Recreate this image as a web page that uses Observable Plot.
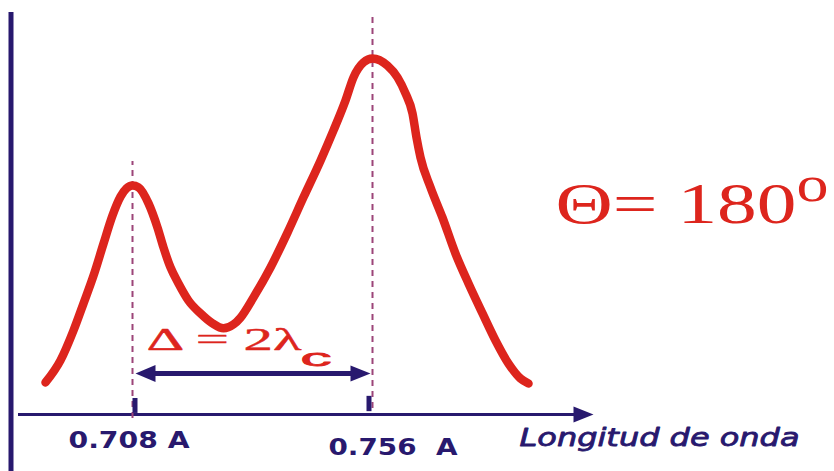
<!DOCTYPE html>
<html>
<head>
<meta charset="utf-8">
<script src="https://cdn.jsdelivr.net/npm/d3@7"></script>
<script src="https://cdn.jsdelivr.net/npm/@observablehq/plot@0.6"></script>
<style>
  html, body { margin: 0; padding: 0; background: #fff; }
  #chart svg { display: block; }
</style>
</head>
<body>
<div id="chart"></div>
<script>
// Compton spectrum at a scattering angle of 180°: wavelength (Å) vs. intensity (arbitrary units)
const wavelength = [0.6906, 0.6936, 0.6962, 0.6982, 0.7002, 0.7022, 0.7040, 0.7056, 0.7068, 0.7080,
  0.7092, 0.7112, 0.7130, 0.7142, 0.7156, 0.7172, 0.7192, 0.7216, 0.7240, 0.7262,
  0.7282, 0.7296, 0.7322, 0.7356, 0.7390, 0.7422, 0.7456, 0.7482, 0.7506, 0.7522, 0.7542, 0.7560,
  0.7590, 0.7610, 0.7626, 0.7640, 0.7648, 0.7656, 0.7676, 0.7700,
  0.7726, 0.7752, 0.7780, 0.7806, 0.7832, 0.7856, 0.7872];
const intensity = [9.0, 15.2, 23.6, 31.2, 39.0, 48.0, 55.9, 61.2, 63.5, 64.3,
  63.8, 59.3, 52.5, 46.9, 41.3, 36.8, 32.0, 28.4, 25.6, 24.2,
  25.3, 27.2, 32.9, 41.3, 51.1, 61.0, 71.3, 79.8, 88.2, 94.7, 98.9, 100,
  98.0, 94.7, 90.2, 84.6, 77.8, 72.2, 63.8, 55.3,
  45.2, 36.8, 28.4, 20.8, 14.3, 10.1, 8.7];

// unshifted (0.708 Å) and shifted (0.756 Å) lines
const peakWavelengths = [0.708, 0.756];
const tickLabels = ["0.708 A", "0.756  A"];
const guideBottoms = [-1.1, 1.7];
const guideTops = [71.1, 112.4];

const axisTitle = "Longitud de onda";
const angleLabel = "Θ= 180";
const degreeMark = "o";
const shiftLabel = "Δ = 2λ";
const shiftSubscript = "c";

const navy = "#28196e";
const red = "#dd251d";
const guideColor = "#9c4579";

const spectrum = wavelength.map((w, i) => ({w, v: intensity[i]}));
const ticks = peakWavelengths.map((w, i) => ({w, label: tickLabels[i]}));
const shiftLevel = 11.5; // height of the Δ arrow

// filled triangular arrowheads
const headRight = {draw(ctx, size) { const r = Math.sqrt(size / Math.PI); ctx.moveTo(r, 0); ctx.lineTo(-r, -0.8 * r); ctx.lineTo(-r, 0.8 * r); ctx.closePath(); }};
const headLeft = {draw(ctx, size) { const r = Math.sqrt(size / Math.PI); ctx.moveTo(-r, 0); ctx.lineTo(r, -0.85 * r); ctx.lineTo(r, 0.85 * r); ctx.closePath(); }};

const serif = "'Liberation Serif', 'Times New Roman', serif";
const sans = "'DejaVu Sans', sans-serif";

const chart = Plot.plot({
  width: 834,
  height: 471,
  margin: 0,
  x: {domain: [0.6816, 0.8484], axis: null},
  y: {domain: [-16.01, 116.29], axis: null},
  marks: [
    // vertical axis
    Plot.ruleX([0.6837], {y1: -16.01, y2: 112.9, stroke: navy, strokeWidth: 5}),
    // wavelength axis with arrow
    Plot.ruleY([0], {x1: 0.6852, x2: 0.7966, stroke: navy, strokeWidth: 3}),
    Plot.dot([0.7982], {x: d => d, y: 0, symbol: headRight, r: 10, fill: navy, stroke: null}),
    // dashed guides through both peaks
    Plot.ruleX(peakWavelengths, {y1: guideBottoms, y2: guideTops, stroke: guideColor, strokeWidth: 2, strokeDasharray: "6,5"}),
    // tick marks
    Plot.ruleX([peakWavelengths[0]], {y1: 0.3, y2: 4.5, dx: 2.5, stroke: navy, strokeWidth: 5}),
    Plot.ruleX([peakWavelengths[1]], {y1: 0.8, y2: 5.1, dx: -3.5, stroke: navy, strokeWidth: 5}),
    // spectrum
    Plot.line(spectrum, {x: "w", y: "v", stroke: red, strokeWidth: 8.5, curve: "monotone-x", strokeLinecap: "round"}),
    // Δ double arrow between the peaks
    Plot.ruleY([shiftLevel], {x1: peakWavelengths[0], x2: peakWavelengths[1], insetLeft: 18, insetRight: 16, stroke: navy, strokeWidth: 5}),
    Plot.dot([peakWavelengths[0]], {x: d => d, y: shiftLevel, dx: 13, symbol: headLeft, r: 10, fill: navy, stroke: null}),
    Plot.dot([peakWavelengths[1]], {x: d => d, y: shiftLevel, dx: -12, symbol: headRight, r: 10, fill: navy, stroke: null}),
    // tick labels
    Plot.text([ticks[0]], {x: "w", y: 0, text: "label", dx: -3.5, dy: 33, lineAnchor: "bottom", fontFamily: sans, fontWeight: "bold", fontSize: 23, fill: navy}),
    Plot.text([ticks[1]], {x: "w", y: 0, text: "label", dx: 20.5, dy: 40, lineAnchor: "bottom", fontFamily: sans, fontWeight: "bold", fontSize: 23, fill: navy}),
    // axis title
    Plot.text([axisTitle], {frameAnchor: "bottom-right", textAnchor: "end", lineAnchor: "bottom", dx: -35, dy: -26, fontFamily: sans, fontStyle: "italic", fontSize: 24, fill: navy, stroke: navy, strokeWidth: 0.8}),
    // scattering angle
    Plot.text([angleLabel], {frameAnchor: "top-left", textAnchor: "start", lineAnchor: "bottom", dx: 555, dy: 222, fontFamily: serif, fontSize: 58, fill: red}),
    Plot.text([degreeMark], {frameAnchor: "top-left", textAnchor: "start", lineAnchor: "bottom", dx: 796, dy: 200, fontFamily: serif, fontSize: 50, fill: red}),
    // Compton shift
    Plot.text([shiftLabel], {x: peakWavelengths[0], y: shiftLevel, textAnchor: "start", lineAnchor: "bottom", dx: 14, dy: -24, fontFamily: serif, fontSize: 31, fill: red, stroke: red, strokeWidth: 0.4}),
    Plot.text([shiftSubscript], {x: peakWavelengths[0], y: shiftLevel, textAnchor: "start", lineAnchor: "bottom", dx: 168, dy: -8, fontFamily: "'Liberation Sans', Arial, sans-serif", fontSize: 24, fill: red, stroke: red, strokeWidth: 0.8})
  ]
});

// widen the lettering to its set widths
const setWidths = new Map([
  [tickLabels[0], 121], [tickLabels[1], 129], [axisTitle, 280],
  [angleLabel, 241], [degreeMark, 32], [shiftLabel, 155], [shiftSubscript, 31]
]);
d3.select(chart).selectAll("text").each(function () {
  const w = setWidths.get(this.textContent);
  if (w) {
    this.setAttribute("textLength", w);
    this.setAttribute("lengthAdjust", "spacingAndGlyphs");
  }
});

document.getElementById("chart").appendChild(chart);
</script>
</body>
</html>
